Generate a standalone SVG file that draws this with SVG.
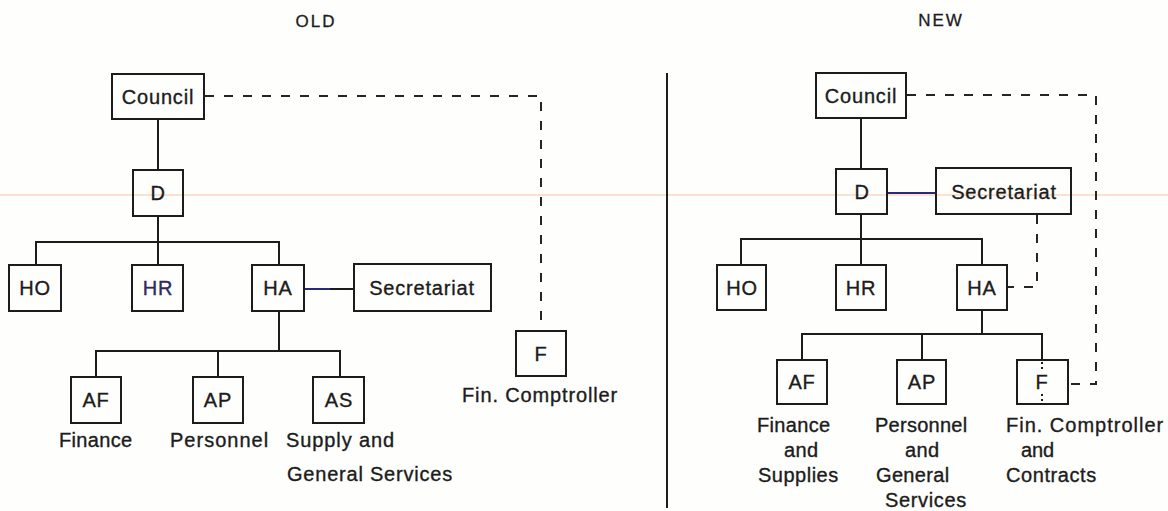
<svg xmlns="http://www.w3.org/2000/svg" width="1168" height="511" viewBox="0 0 1168 511">
<style>
  .box { fill: none; stroke: #1c1c1c; stroke-width: 2; }
  .t { font-family: "Liberation Sans", Arial, sans-serif; font-size: 20px; fill: #1c1c1c; stroke: #1c1c1c; stroke-width: 0.35px; letter-spacing: 0.8px; }
  .c { text-anchor: middle; }
  .h { font-family: "Liberation Sans", Arial, sans-serif; font-size: 17px; fill: #1c1c1c; stroke: #1c1c1c; stroke-width: 0.3px; letter-spacing: 2px; text-anchor: middle; }
  .ln { fill: none; stroke: #1c1c1c; stroke-width: 2; }
  .bl { fill: none; stroke: #2a2a7a; stroke-width: 2; }
  .ds { fill: none; stroke: #2a2420; stroke-width: 2; stroke-dasharray: 9 10; }
  .dt { fill: none; stroke: #1c1c1c; stroke-width: 2; stroke-dasharray: 2 3; }
</style>
<rect x="0" y="0" width="1168" height="511" fill="#fefefd"/>
<line x1="0" y1="195" x2="1168" y2="195" stroke="#f5c4a4" stroke-width="1.2"/>
<text class="h" x="316" y="27">OLD</text>
<text class="h" x="941" y="26">NEW</text>
<line x1="667" y1="73" x2="667" y2="508" stroke="#1c1c1c" stroke-width="2"/>

<g id="connectors">
  <!-- OLD -->
  <line class="ln" x1="158" y1="119" x2="158" y2="170" stroke="#1e2e1e"/>
  <path class="ln" d="M158 216 V242 M36 265 V242 H279 V265 M158 242 V265"/>
  <line class="bl" x1="304" y1="289" x2="330" y2="289"/>
  <line class="ln" x1="330" y1="289" x2="354" y2="289"/>
  <path class="ln" d="M279 311 V351 M96 377 V351 H340 V377 M218 351 V377"/>
  <path class="ds" d="M205 96 H541 V331"/>
  <!-- NEW -->
  <line class="ln" x1="861" y1="118" x2="861" y2="169"/>
  <line class="bl" x1="887" y1="193" x2="936" y2="193"/>
  <path class="ln" d="M861 214 V239 M741 265 V239 H982 V265 M861 239 V265"/>
  <path class="ln" d="M982 310 V334 M802 360 V334 H1042 V360 M922 334 V360"/>
  <path class="ds" d="M1037 215 V287 H1008"/>
  <path class="ds" d="M907 95 H1096 V384 H1068"/>
  <path class="dt" d="M1042 362 V372 M1042 394 V403"/>
</g>

<!-- OLD nodes -->
<g id="old-council"><rect class="box" x="112" y="74" width="92" height="45"/><text class="t c" x="158" y="104">Council</text></g>
<g id="old-d"><rect class="box" x="133" y="170" width="50" height="46"/><text class="t c" x="158" y="200">D</text></g>
<g id="old-ho"><rect class="box" x="9" y="265" width="52" height="46"/><text class="t c" x="35" y="295">HO</text></g>
<g id="old-hr"><rect class="box" x="132" y="265" width="51" height="46"/><text class="t c" x="158" y="295" style="fill:#2e2a60;stroke:#2e2a60">HR</text></g>
<g id="old-ha"><rect class="box" x="252" y="265" width="52" height="46"/><text class="t c" x="278" y="295">HA</text></g>
<g id="old-secretariat"><rect class="box" x="354" y="264" width="137" height="47"/><text class="t c" x="422" y="295">Secretariat</text></g>
<g id="old-af"><rect class="box" x="71" y="377" width="50" height="46"/><text class="t c" x="96" y="407">AF</text>
  <text class="t" x="59" y="447" textLength="74" lengthAdjust="spacing">Finance</text></g>
<g id="old-ap"><rect class="box" x="193" y="377" width="50" height="46"/><text class="t c" x="218" y="407">AP</text>
  <text class="t" x="170" y="447" textLength="99" lengthAdjust="spacing">Personnel</text></g>
<g id="old-as"><rect class="box" x="313" y="377" width="51" height="46"/><text class="t c" x="339" y="407">AS</text>
  <text class="t" x="286" y="447" textLength="109" lengthAdjust="spacing">Supply and</text>
  <text class="t" x="287" y="481" textLength="166" lengthAdjust="spacing">General Services</text></g>
<g id="old-f"><rect class="box" x="516" y="331" width="50" height="45"/><text class="t c" x="541" y="361">F</text>
  <text class="t" x="462" y="402" textLength="156" lengthAdjust="spacing">Fin. Comptroller</text></g>

<!-- NEW nodes -->
<g id="new-council"><rect class="box" x="816" y="73" width="90" height="45"/><text class="t c" x="861" y="103">Council</text></g>
<g id="new-d"><rect class="box" x="836" y="169" width="51" height="45"/><text class="t c" x="862" y="199">D</text></g>
<g id="new-secretariat"><rect class="box" x="936" y="168" width="135" height="46"/><text class="t c" x="1004" y="199">Secretariat</text></g>
<g id="new-ho"><rect class="box" x="717" y="265" width="49" height="45"/><text class="t c" x="742" y="295">HO</text></g>
<g id="new-hr"><rect class="box" x="836" y="265" width="50" height="45"/><text class="t c" x="861" y="295">HR</text></g>
<g id="new-ha"><rect class="box" x="957" y="265" width="50" height="45"/><text class="t c" x="982" y="295">HA</text></g>
<g id="new-af"><rect class="box" x="777" y="360" width="50" height="44"/><text class="t c" x="802" y="389">AF</text>
  <text class="t" x="757" y="432" textLength="74" lengthAdjust="spacing">Finance</text>
  <text class="t" x="784" y="457" textLength="35" lengthAdjust="spacing">and</text>
  <text class="t" x="758" y="482" textLength="81" lengthAdjust="spacing">Supplies</text></g>
<g id="new-ap"><rect class="box" x="897" y="360" width="49" height="44"/><text class="t c" x="922" y="389">AP</text>
  <text class="t" x="875" y="432" textLength="93" lengthAdjust="spacing">Personnel</text>
  <text class="t" x="905" y="457" textLength="35" lengthAdjust="spacing">and</text>
  <text class="t" x="876" y="482" textLength="74" lengthAdjust="spacing">General</text>
  <text class="t" x="885" y="507" textLength="82" lengthAdjust="spacing">Services</text></g>
<g id="new-f"><rect class="box" x="1017" y="360" width="51" height="44"/><text class="t c" x="1042" y="389">F</text>
  <text class="t" x="1006" y="432" textLength="158" lengthAdjust="spacing">Fin. Comptroller</text>
  <text class="t" x="1021" y="457" textLength="34" lengthAdjust="spacing">and</text>
  <text class="t" x="1006" y="482" textLength="91" lengthAdjust="spacing">Contracts</text></g>
</svg>
